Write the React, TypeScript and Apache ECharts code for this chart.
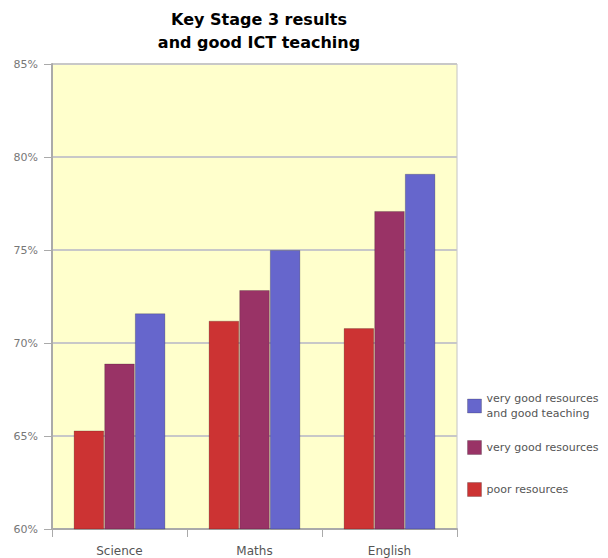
import React, { useEffect, useRef } from "react";
import * as echarts from "echarts";

const categories = ["Science", "Maths", "English"];
const poorResources = [65.3, 71.2, 70.8];
const veryGoodResources = [68.9, 72.85, 77.1];
const veryGoodAndTeaching = [71.6, 75.0, 79.1];
const seriesNames = ["poor resources", "very good resources", "very good resources\nand good teaching"];
const yTicks = { min: 60, max: 85, interval: 5 };

export default function App() {
  const ref = useRef<HTMLDivElement>(null);
  useEffect(() => {
    const chart = echarts.init(ref.current!, null, { renderer: "svg" });
    const font = "DejaVu Sans";
    const legendText = { color: "#555", fontSize: 11, fontFamily: font, lineHeight: 15 };
    const mkLegend = (name: string, top: number) => ({
      data: [name],
      orient: "vertical",
      left: 462,
      top,
      itemWidth: 14,
      itemHeight: 14,
      itemGap: 0,
      selectedMode: false,
      textStyle: legendText,
      icon: "rect",
      itemStyle: { borderColor: "rgba(0,0,0,0.2)", borderWidth: 1 },
    });
    chart.setOption({
      animation: false,
      backgroundColor: "#ffffff",
      title: {
        text: "Key Stage 3 results\nand good ICT teaching",
        left: 254,
        textAlign: "center",
        top: 3,
        textStyle: { fontFamily: font, fontWeight: "bold", fontSize: 16, color: "#000", lineHeight: 23 },
      },
      legend: [
        mkLegend(seriesNames[2], 386),
        mkLegend(seriesNames[1], 435),
        mkLegend(seriesNames[0], 477),
      ],
      grid: {
        left: 52,
        right: 151,
        top: 64,
        bottom: 29,
        show: true,
        backgroundColor: "#ffffcc",
        borderColor: "#c4c4c4",
        borderWidth: 1,
      },
      xAxis: {
        type: "category",
        data: categories,
        axisLine: { lineStyle: { color: "#aaaaaa", width: 2 } },
        axisTick: { show: true, length: 8, lineStyle: { color: "#aaaaaa", width: 1 } },
        axisLabel: { color: "#555", fontSize: 12, fontFamily: font, margin: 16 },
      },
      yAxis: {
        type: "value",
        min: yTicks.min,
        max: yTicks.max,
        interval: yTicks.interval,
        axisLine: { show: true, lineStyle: { color: "#aaaaaa", width: 2 } },
        axisTick: { show: true, length: 8, lineStyle: { color: "#aaaaaa", width: 1 } },
        axisLabel: { color: "#777", fontSize: 11, fontFamily: font, margin: 14, formatter: "{value}%" },
        splitLine: { show: true, lineStyle: { color: "#c8c8c8", width: 2 } },
      },
      series: [
        {
          name: seriesNames[0],
          type: "bar",
          data: poorResources,
          barGap: "0%",
          barCategoryGap: "32%",
          itemStyle: { color: "#cc3333", borderColor: "rgba(0,0,0,0.2)", borderWidth: 1 },
        },
        {
          name: seriesNames[1],
          type: "bar",
          data: veryGoodResources,
          itemStyle: { color: "#993366", borderColor: "rgba(0,0,0,0.2)", borderWidth: 1 },
        },
        {
          name: seriesNames[2],
          type: "bar",
          data: veryGoodAndTeaching,
          itemStyle: { color: "#6666cc", borderColor: "rgba(0,0,0,0.2)", borderWidth: 1 },
        },
      ],
    });
    return () => chart.dispose();
  }, []);
  return <div ref={ref} style={{ width: 608, height: 558, position: "absolute", left: 0, top: 0 }} />;
}
